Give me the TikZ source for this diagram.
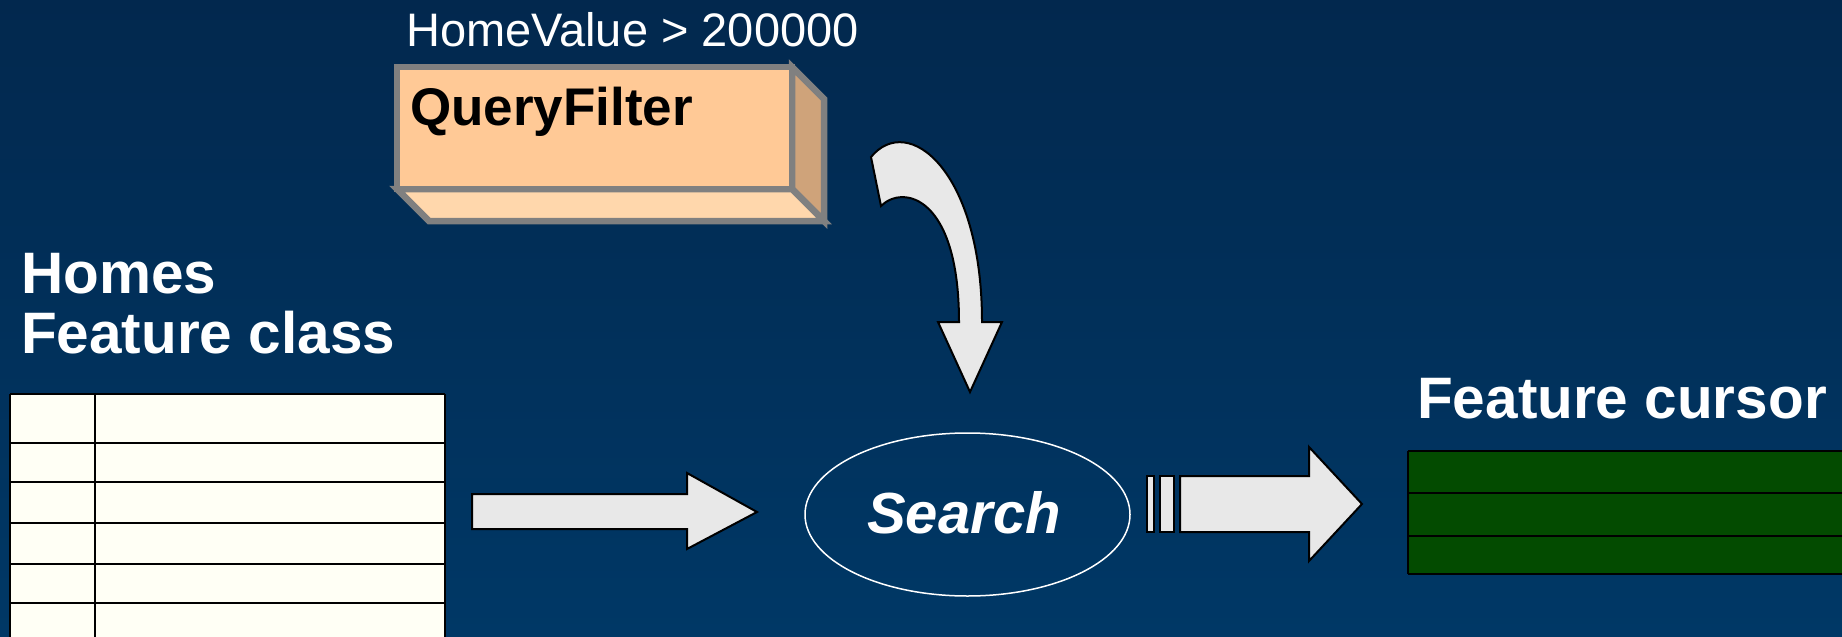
\documentclass[tikz,border=0pt]{standalone}
\usepackage{fontspec}
\setmainfont{Liberation Sans}
\usetikzlibrary{shapes.geometric}

\definecolor{bgtop}{RGB}{2,40,78}
\definecolor{bgbot}{RGB}{0,56,102}
\definecolor{arrowgray}{RGB}{232,232,232}
\definecolor{ivory}{RGB}{255,255,245}
\definecolor{cursorgreen}{RGB}{3,75,0}
\definecolor{peachfront}{RGB}{255,201,150}
\definecolor{peachside}{RGB}{207,163,122}
\definecolor{peachbottom}{RGB}{255,215,172}
\definecolor{boxedge}{RGB}{128,128,128}

\begin{document}
\begin{tikzpicture}[x=1pt,y=-1pt,
  blockarrow/.style={fill=arrowgray, draw=black, line width=2pt, line join=miter},
  gridline/.style={draw=black, line width=2.5pt},
  bigtitle/.style={text=white, inner sep=0pt, anchor=base west,
    font=\fontsize{58.5}{70}\selectfont\bfseries},
  boxface/.style={draw=boxedge, line width=6.5pt, line join=miter}]

  % page and background
  \clip (0,0) rectangle (1842,637);
  \shade[top color=bgtop, bottom color=bgbot] (0,0) rectangle (1842,637);

  % QueryFilter box (3D slab)
  \path[boxface, fill=peachside] (792,67) -- (824,99) -- (824,221) -- (792,189) -- cycle;
  \path[boxface, fill=peachbottom] (397,189) -- (792,189) -- (824,221) -- (429,221) -- cycle;
  \path[boxface, fill=peachfront] (397,67) rectangle (792,189);
  \node[anchor=base west, inner sep=0pt, text=black,
        font=\fontsize{53}{64}\selectfont\bfseries] (filter) at (410,125) {QueryFilter};
  \node[anchor=base west, inner sep=0pt, text=white,
        font=\fontsize{47}{56}\selectfont] (cond) at (406,46) {HomeValue > 200000};

  % curved arrow from the filter down to the search
  \path[blockarrow] (871,157) .. controls (908,112) and (982,170) .. (982,322)
    -- (1002,322) -- (970,392) -- (938,322) -- (959,322)
    .. controls (959,196) and (903,184) .. (881,206) -- cycle;

  % Homes feature class table
  \node[bigtitle] (homes) at (21,293) {Homes};
  \node[bigtitle] (fclass) at (21,353) {Feature class};
  \path[fill=ivory] (10,394) rectangle (445,660);
  \foreach \yy in {394,443,482,523,564,603}
    \draw[gridline] (10,\yy) -- (445,\yy);
  \draw[gridline] (10,394) -- (10,660);
  \draw[gridline] (95,394) -- (95,660);
  \draw[gridline] (445,394) -- (445,660);

  % arrow from the table to the search
  \path[blockarrow] (472,494) -- (687,494) -- (687,473) -- (757,512)
    -- (687,549) -- (687,529) -- (472,529) -- cycle;

  % search operation
  \node[ellipse, draw=white, line width=1.5pt, minimum width=325pt, minimum height=163pt,
        inner sep=0pt] (search) at (967.5,514.5) {};
  \node[anchor=base, inner sep=0pt, text=white,
        font=\fontsize{58}{70}\selectfont\bfseries\itshape] (searchlbl) at (964,533) {Search};

  % output arrow with its trailing bars
  \path[blockarrow] (1147,476) rectangle (1154,532);
  \path[blockarrow] (1160,476) rectangle (1174,532);
  \path[blockarrow] (1180,476) -- (1309,476) -- (1309,447) -- (1362,504)
    -- (1309,561) -- (1309,532) -- (1180,532) -- cycle;

  % feature cursor rows
  \node[bigtitle] (cursor) at (1417,418) {Feature cursor};
  \path[fill=cursorgreen] (1408,451) rectangle (1860,574);
  \foreach \yy in {451,493,536,574}
    \draw[gridline] (1408,\yy) -- (1860,\yy);
  \draw[gridline] (1408,451) -- (1408,574);
\end{tikzpicture}
\end{document}
